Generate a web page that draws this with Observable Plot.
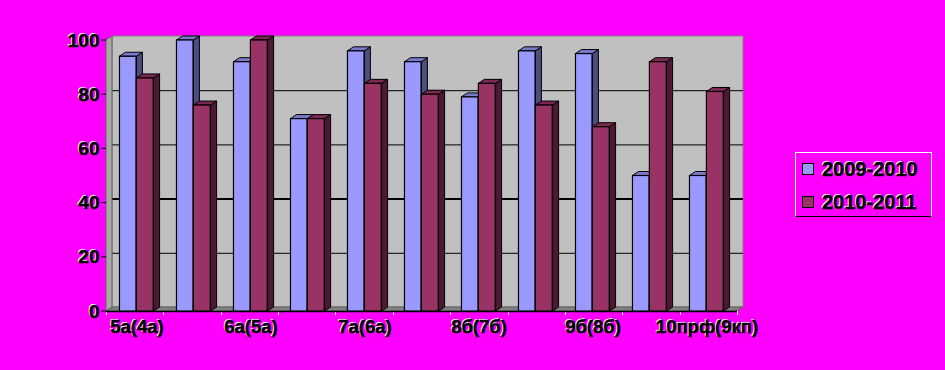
<!DOCTYPE html>
<html><head><meta charset="utf-8">
<script src="https://cdn.jsdelivr.net/npm/d3@7"></script>
<script src="https://cdn.jsdelivr.net/npm/@observablehq/plot@0.6"></script>
<style>
html,body{margin:0;padding:0;background:#FF00FF;}
#wrap{position:relative;width:945px;height:370px;overflow:hidden;background:#FF00FF;}
.legend{position:absolute;left:795px;top:152px;width:135px;height:63px;border:1px solid #fff;border-bottom-color:#000;font:bold 20px "Liberation Sans",Arial,sans-serif;color:#000;}
.legend .item{position:absolute;left:26px;line-height:20px;text-shadow:-1px -1px 0 #fff;-webkit-text-stroke:0.4px #000;white-space:nowrap;}
.legend .sw{position:absolute;left:6px;width:10px;height:10px;border:1px solid #000;}
</style></head>
<body>
<div id="wrap"></div>
<script>
const categories = ["5а(4а)","5б(4б)","6а(5а)","6б(5б)","7а(6а)","8а(7а)","8б(7б)","9а(8а)","9б(8б)","10а(9а)","10прф(9кп)"];
const seriesNames = ["2009-2010","2010-2011"];
const values2009 = [94,100,92,71,96,92,79,96,95,50,50];
const values2010 = [86,76,100,71,84,80,84,76,68,92,81];
const yTicks = [0,20,40,60,80,100];
const xTickLabels = ["5а(4а)","6а(5а)","7а(6а)","8б(7б)","9б(8б)","10прф(9кп)"];

const W = 945, H = 370, mL = 106, mR = 208, mT = 40, mB = 59;
const DX = 6, DY = 4;
const FONT = "Liberation Sans, Arial, sans-serif";
const styleA = {front:"#9999FF", side:"#4D4D80", top:"#7A7ACC"};
const styleB = {front:"#993366", side:"#4D1A33", top:"#7A2952"};
const posA = [0.2, 0.495], posB = [0.495, 0.795];

const rows = categories.map((c, i) => ({cat: c, a: values2009[i], b: values2010[i]}));
const bw = (W - mL - mR) / categories.length;

function poly(g, pts, fill, stroke, sw) {
  g.append("polygon").attr("points", pts.map(p => p.join(",")).join(" "))
    .attr("fill", fill).attr("stroke", stroke || "none").attr("stroke-width", sw || 1)
    .attr("stroke-linejoin", "round");
}

function backWall(index, scales, values, dim) {
  const g = d3.create("svg:g");
  const x0 = dim.marginLeft, x1 = dim.width - dim.marginRight;
  const yb = scales.y(0), yt = scales.y(100);
  poly(g, [[x0+DX, yt-DY],[x1+DX, yt-DY],[x1+DX, yb-DY],[x0+DX, yb-DY]], "#C0C0C0", "#808080", 1);
  return g.node();
}

function floorWall(index, scales, values, dim) {
  const g = d3.create("svg:g");
  const x0 = dim.marginLeft, x1 = dim.width - dim.marginRight;
  const yb = scales.y(0), yt = scales.y(100);
  poly(g, [[x0, yb],[x0, yt],[x0+DX, yt-DY],[x0+DX, yb-DY]], "#A8A8A8", "#606060", 1);
  poly(g, [[x0, yb],[x0+DX, yb-DY],[x1+DX, yb-DY],[x1, yb]], "#808080", "#606060", 1);
  for (const v of yTicks) {
    g.append("line").attr("x1", x0-5).attr("x2", x0).attr("y1", scales.y(v)).attr("y2", scales.y(v))
      .attr("stroke", "#000").attr("stroke-width", 1);
  }
  for (let i = 0; i <= categories.length; i++) {
    const xx = Math.round(x0 + i * bw) + 0.5;
    g.append("line").attr("x1", xx).attr("x2", xx).attr("y1", yb).attr("y2", yb+4)
      .attr("stroke", "#fff").attr("stroke-width", 1);
  }
  return g.node();
}

function faces(index, scales, values, dim) {
  const g = d3.create("svg:g");
  const yb = scales.y(0);
  const draw = (key, pos, st) => {
    for (const r of rows) {
      const bx = scales.x(r.cat);
      const x1 = bx + bw*pos[0], x2 = bx + bw*pos[1], yt = scales.y(r[key]);
      poly(g, [[x2, yt],[x2+DX, yt-DY],[x2+DX, yb-DY],[x2, yb]], st.side, "#000", 1);
      poly(g, [[x1, yt],[x1+DX, yt-DY],[x2+DX, yt-DY],[x2, yt]], st.top, "#000", 1);
    }
  };
  draw("a", posA, styleA);
  draw("b", posB, styleB);
  return g.node();
}

const textOpts = {fontSize: 19, fontWeight: "bold", fontFamily: FONT};

const chart = Plot.plot({
  width: W, height: H,
  marginLeft: mL, marginRight: mR, marginTop: mT, marginBottom: mB,
  style: {background: "#FF00FF", fontFamily: FONT, overflow: "visible"},
  x: {domain: categories, padding: 0, axis: null},
  y: {domain: [0, 100], axis: null},
  marks: [
    backWall,
    Plot.ruleY(yTicks.filter(v => v > 0 && v < 100), {dx: DX, dy: -DY, stroke: "#000", strokeWidth: v => v === 40 ? 2 : 1}),
    floorWall,
    Plot.ruleY([0], {stroke: "#000", strokeWidth: 1.5}),
    faces,
    Plot.barY(rows, {x: "cat", y: "a", fill: styleA.front, stroke: "#000", strokeWidth: 1.2, insetLeft: bw*posA[0], insetRight: bw*(1-posA[1])}),
    Plot.barY(rows, {x: "cat", y: "b", fill: styleB.front, stroke: "#000", strokeWidth: 1.2, insetLeft: bw*posB[0], insetRight: bw*(1-posB[1])}),
    Plot.text(yTicks, {y: d => d, text: d => String(d), frameAnchor: "left", textAnchor: "end", dx: -8, dy: -1, fill: "#fff", ...textOpts}),
    Plot.text(yTicks, {y: d => d, text: d => String(d), frameAnchor: "left", textAnchor: "end", dx: -7, fill: "#000", stroke: "#000", strokeWidth: 0.5, ...textOpts}),
    Plot.text(xTickLabels, {x: d => d, text: d => d, frameAnchor: "bottom", dy: 20, dx: -1, fill: "#fff", fontSize: 18.5, fontWeight: "bold", fontFamily: FONT}),
    Plot.text(xTickLabels, {x: d => d, text: d => d, frameAnchor: "bottom", dy: 21, fill: "#000", stroke: "#000", strokeWidth: 0.5, fontSize: 18.5, fontWeight: "bold", fontFamily: FONT})
  ]
});

const wrap = document.getElementById("wrap");
wrap.appendChild(chart);

const legend = document.createElement("div");
legend.className = "legend";
const swColors = [styleA.front, styleB.front];
seriesNames.forEach((name, i) => {
  const sw = document.createElement("div");
  sw.className = "sw";
  sw.style.top = (10 + i*33) + "px";
  sw.style.background = swColors[i];
  legend.appendChild(sw);
  const it = document.createElement("div");
  it.className = "item";
  it.style.top = (6 + i*33) + "px";
  it.textContent = name;
  legend.appendChild(it);
});
wrap.appendChild(legend);
</script>
</body></html>
